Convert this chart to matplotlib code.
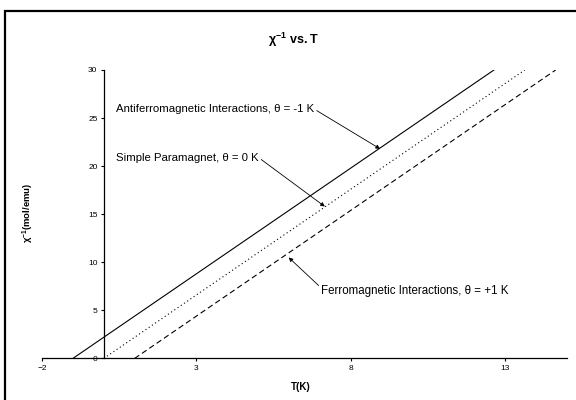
import numpy as np
import matplotlib
matplotlib.use("Agg")
import matplotlib.pyplot as plt
from matplotlib.patches import Rectangle

plt.rcParams["font.family"] = ["Liberation Sans", "DejaVu Sans"]
plt.rcParams["mathtext.default"] = "regular"

# lines: chi^-1 vs T for three Weiss constants
T_afm = [-1.0, 12.64]
chi_afm = [0.0, 30.0]
T_para = [0.0, 13.64]
chi_para = [0.0, 30.0]
T_ferro = [1.0, 14.64]
chi_ferro = [0.0, 30.0]

xticks = [-2, 3, 8, 13]
yticks = [0, 5, 10, 15, 20, 25, 30]

label_afm = "Antiferromagnetic Interactions, \u03b8 = -1 K"
label_para = "Simple Paramagnet, \u03b8 = 0 K"
label_ferro = "Ferromagnetic Interactions, \u03b8 = +1 K"

fig = plt.figure(figsize=(5.76, 4.0), dpi=100)
ax = fig.add_axes([0.073, 0.104, 0.911, 0.721])

# chart border (runs off the right and bottom edge like the original)
fig.patches.append(Rectangle((5 / 576, -0.05), 1.2, 1 - 11 / 400 + 0.05,
                             transform=fig.transFigure, fill=False,
                             edgecolor="black", linewidth=1.6))

ax.plot(T_afm, chi_afm, color="black", linewidth=0.8, linestyle="-")
ax.plot(T_para, chi_para, color="black", linewidth=0.8, linestyle=(0, (1, 2.5)))
ax.plot(T_ferro, chi_ferro, color="black", linewidth=0.8, linestyle=(0, (5, 3)))

ax.set_xlim(-2, 15)
ax.set_ylim(0, 30)
ax.set_xticks(xticks)
ax.set_yticks(yticks)
ax.tick_params(labelsize=6, length=2.5, width=0.8, pad=2)

ax.spines["top"].set_visible(False)
ax.spines["right"].set_visible(False)
ax.spines["left"].set_position(("data", 0))
ax.spines["left"].set_linewidth(0.9)
ax.spines["bottom"].set_linewidth(0.9)

arrow = dict(arrowstyle="-|>", color="black", linewidth=0.6, mutation_scale=6,
             shrinkA=0, shrinkB=0)
ax.annotate(label_afm, xy=(8.95, 21.8), xytext=(0.39, 25.9), fontsize=8.2,
            ha="left", va="center",
            arrowprops=dict(arrow, relpos=(1.0, 0.55)))
ax.annotate(label_para, xy=(7.16, 15.8), xytext=(0.39, 20.85), fontsize=8.2,
            ha="left", va="center",
            arrowprops=dict(arrow, relpos=(1.0, 0.55)))
ax.annotate(label_ferro, xy=(5.99, 10.5), xytext=(7.05, 7.0), fontsize=8.3,
            ha="left", va="center",
            arrowprops=dict(arrow, relpos=(0.0, 0.75)))

fig.text(294 / 576, 1 - 40 / 400, "\u03c7$^{-1}$ vs. T", fontsize=9,
         fontweight="bold", ha="center", va="center")
fig.text(301 / 576, 1 - 387 / 400, "T(K)", fontsize=7,
         fontweight="bold", ha="center", va="center")
fig.text(28 / 576, 1 - 213 / 400, "\u03c7$^{-1}$(mol/emu)", fontsize=6.8,
         fontweight="bold", ha="center", va="center", rotation=90)

fig.savefig("out.png", dpi=100)
